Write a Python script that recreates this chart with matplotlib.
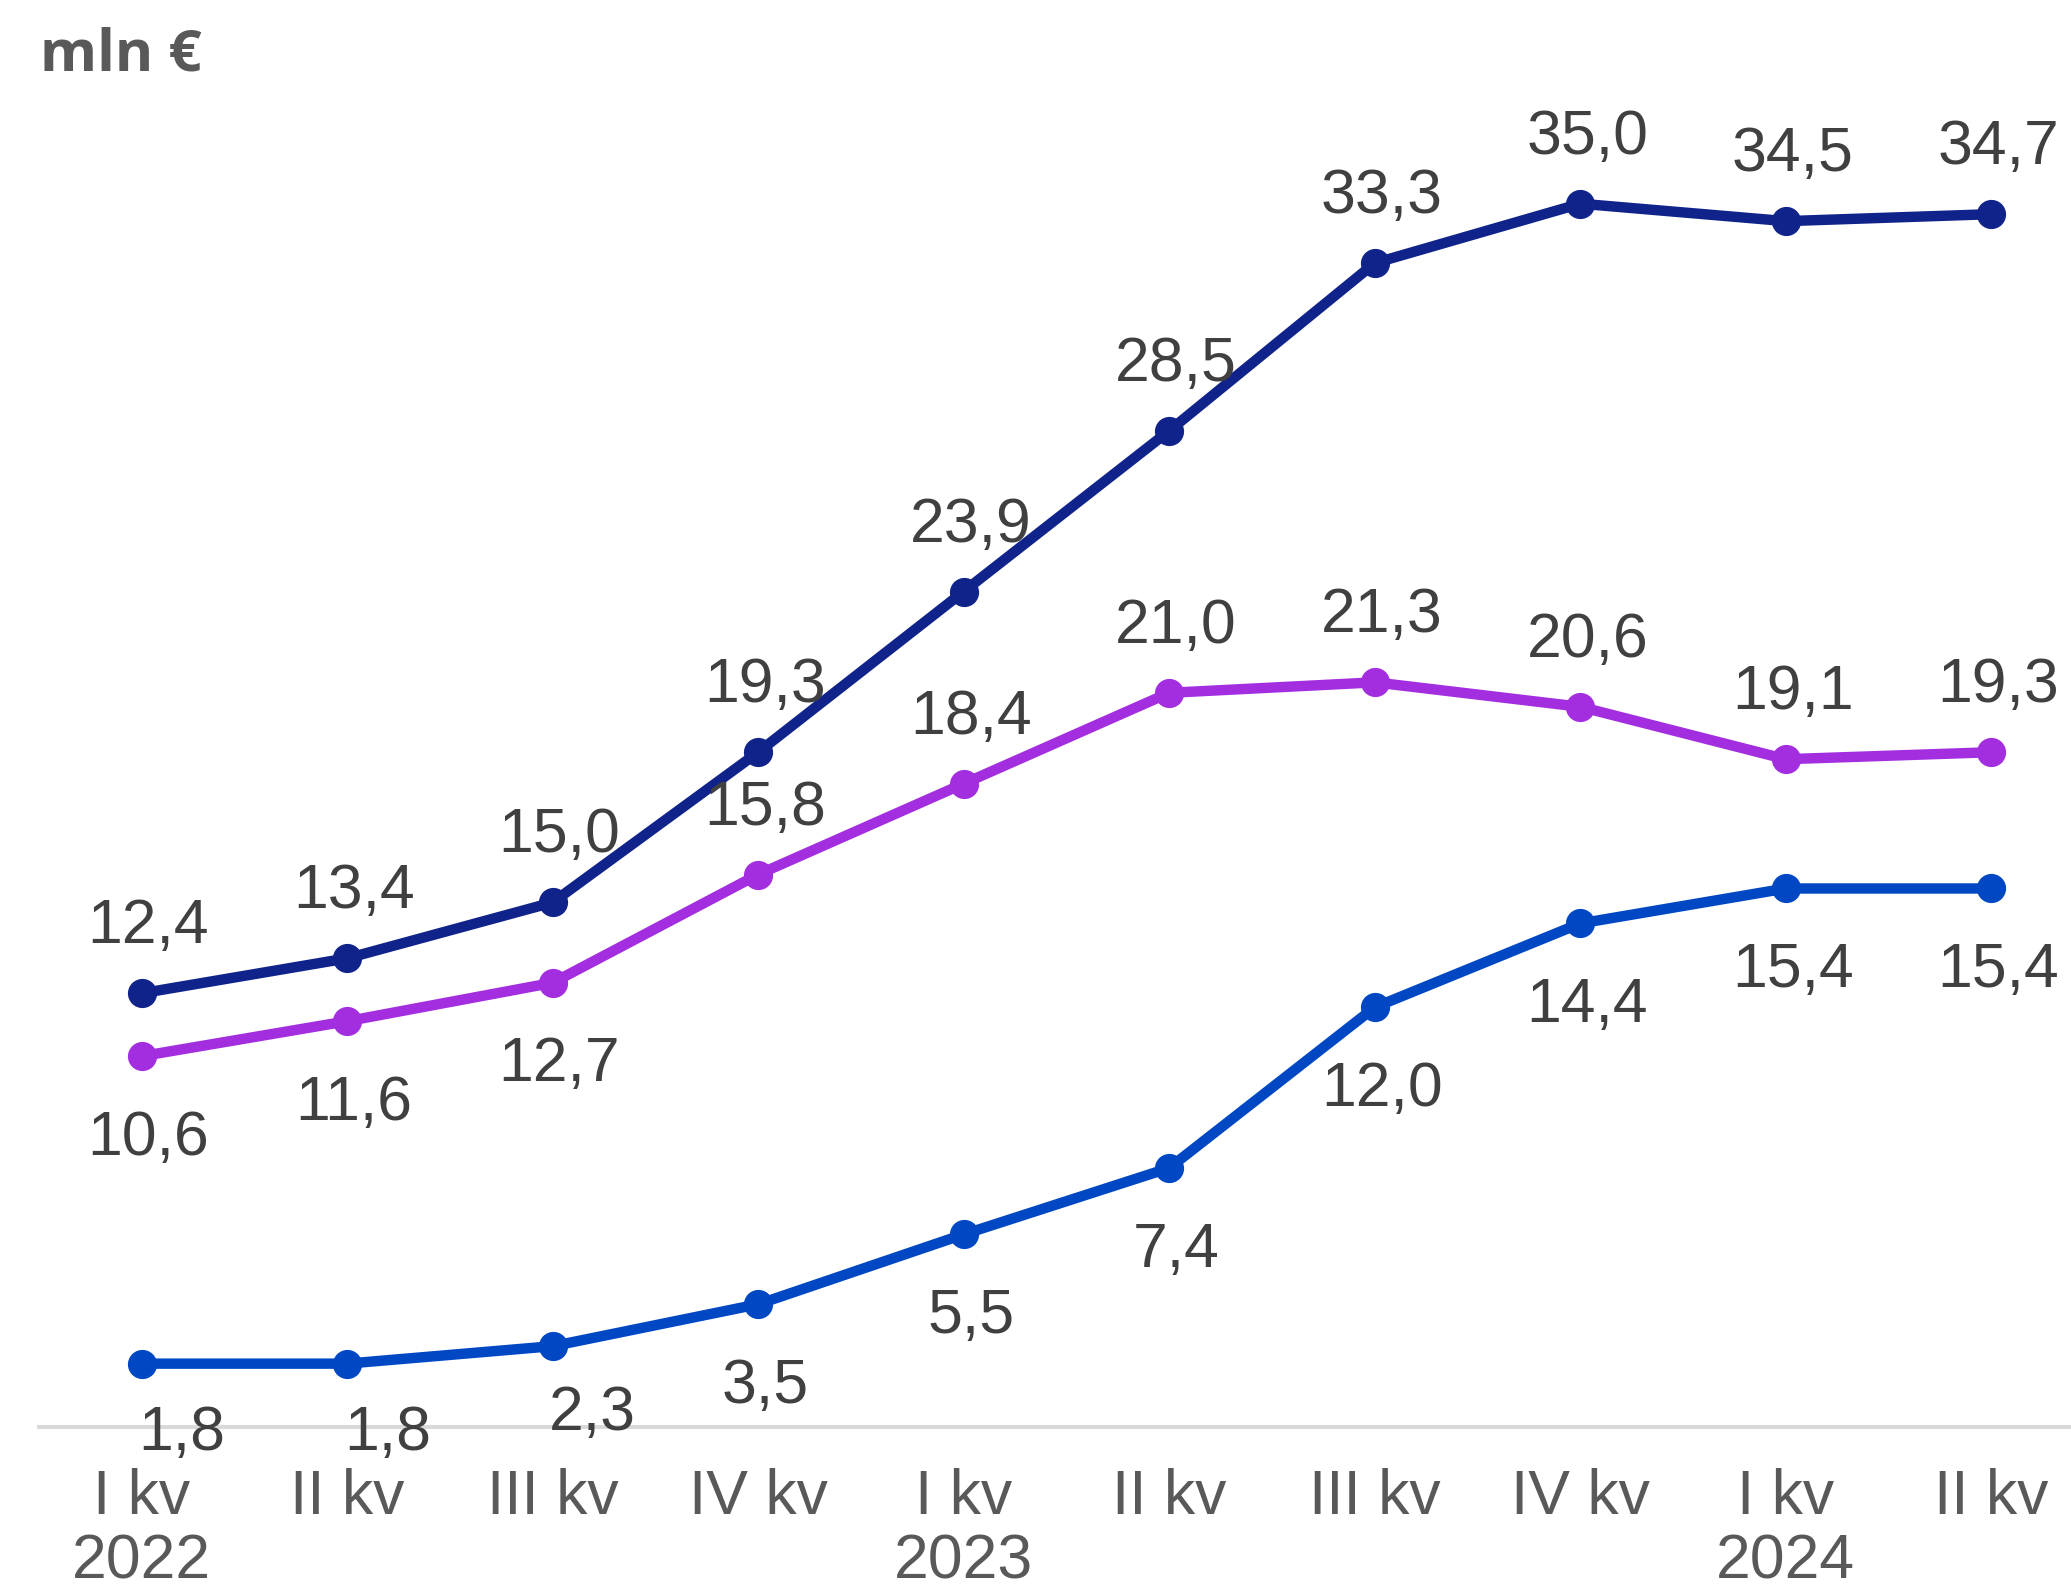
import matplotlib.pyplot as plt

quarters = ["I kv\n2022", "II kv", "III kv", "IV kv", "I kv\n2023", "II kv",
            "III kv", "IV kv", "I kv\n2024", "II kv"]
total = [12.4, 13.4, 15.0, 19.3, 23.9, 28.5, 33.3, 35.0, 34.5, 34.7]
purple_series = [10.6, 11.6, 12.7, 15.8, 18.4, 21.0, 21.3, 20.6, 19.1, 19.3]
blue_series = [1.8, 1.8, 2.3, 3.5, 5.5, 7.4, 12.0, 14.4, 15.4, 15.4]

plt.rcParams['font.family'] = ['Liberation Sans', 'DejaVu Sans']

fig = plt.figure(figsize=(20.71, 15.93), dpi=100)
ax = fig.add_axes([0.0187, 0.1045, 0.9925, 0.8773])
x = list(range(len(quarters)))

# (label offsets in points: above / below / shifted right)
UP = (5, 36)
DOWN = (5, -71)
series = [
    (total, '#10238A', [UP] * 10),
    (purple_series, '#A32EE0', [DOWN, DOWN, DOWN] + [UP] * 7),
    (blue_series, '#0047C4', [(29, -62), (29, -62), (29, -60)] + [DOWN] * 7),
]

for vals, col, offs in series:
    ax.plot(x, vals, color=col, lw=7.5, marker='o', ms=20, zorder=3, clip_on=False)
    for xi, v, off in zip(x, vals, offs):
        ax.annotate(f"{v:.1f}".replace('.', ','), (xi, v), xytext=off,
                    textcoords='offset points', ha='center', va='baseline',
                    fontsize=45, color='#404040', annotation_clip=False)

ax.set_xlim(-0.5, 9.5)
ax.set_ylim(0, 40)
ax.set_yticks([])
ax.set_xticks(x)
ax.set_xticklabels(quarters, fontsize=45, color='#595959', linespacing=1.12)
ax.tick_params(axis='x', length=0, pad=30)
for s in ['top', 'right', 'left']:
    ax.spines[s].set_visible(False)
ax.spines['bottom'].set_color('#D9D9D9')
ax.spines['bottom'].set_linewidth(2.9)
ax.patch.set_alpha(0)

fig.text(40 / 2071, 0.956, "mln €", fontsize=42, fontweight='bold', color='#595959',
         family=['Open Sans', 'DejaVu Sans'], va='baseline')

fig.savefig('out.png', dpi=100)
